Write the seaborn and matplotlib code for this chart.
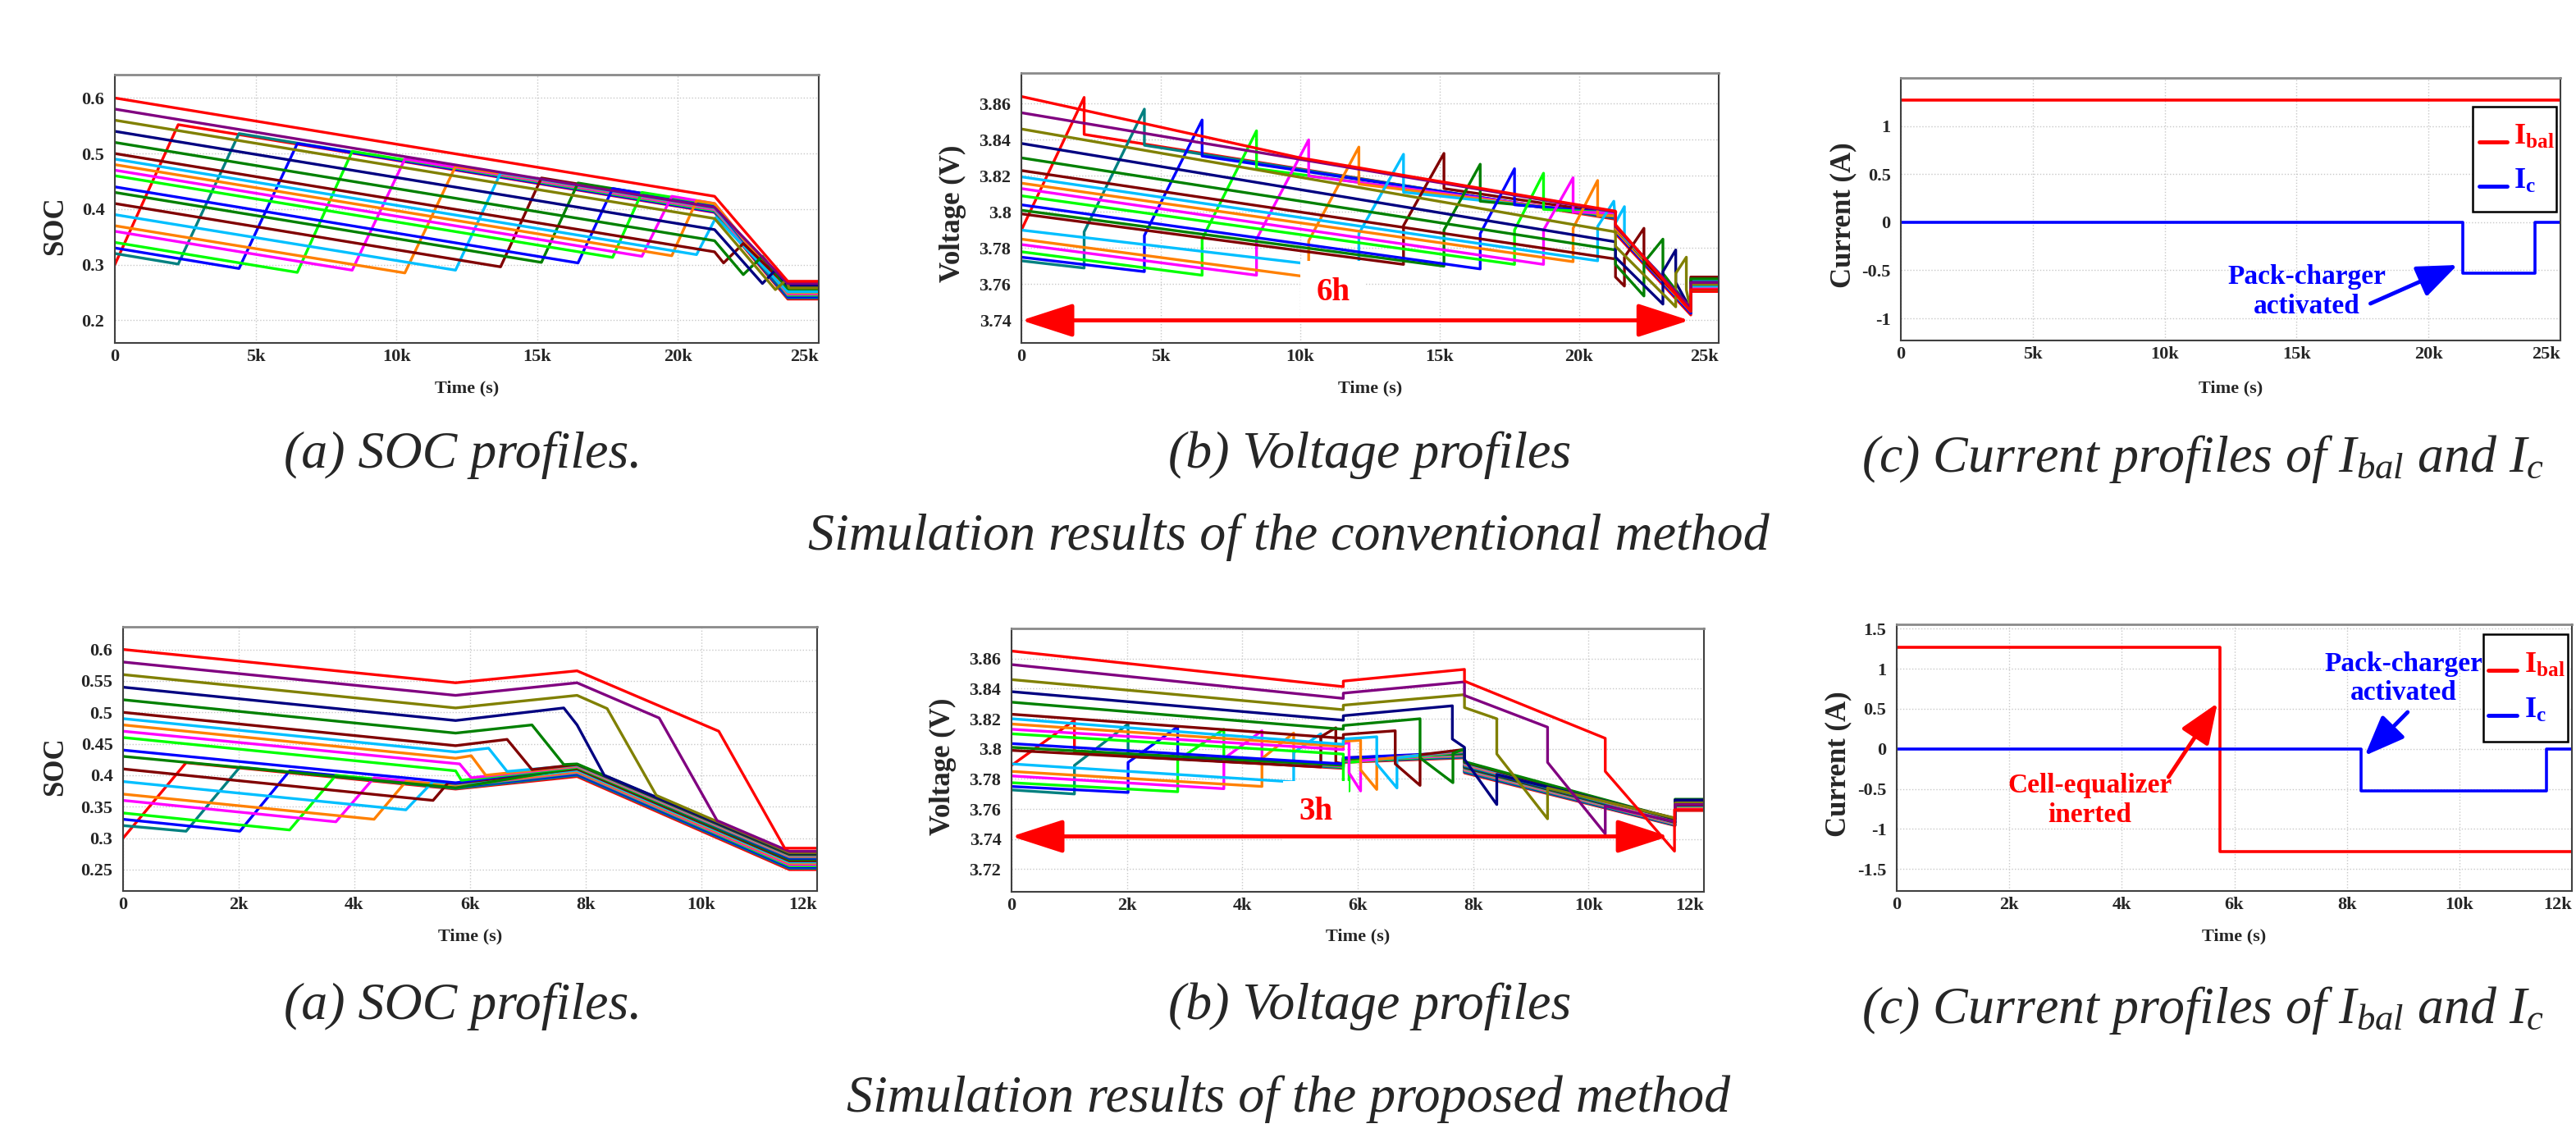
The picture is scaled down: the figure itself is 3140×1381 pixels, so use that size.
import seaborn as sns
import matplotlib.pyplot as plt
from matplotlib.patches import Rectangle, ArrowStyle
from matplotlib.lines import Line2D

W, H = 3140, 1381

# colours of the 20 cells, ordered from lowest to highest initial SOC
cell_colors = ["#ff0000", "#008080", "#0000ff", "#00ff00", "#ff00ff", "#ff8000",
               "#00bfff", "#800000", "#008000", "#0000ff", "#00ff00", "#ff00ff",
               "#ff8000", "#00bfff", "#800000", "#008000", "#000080", "#808000",
               "#800080", "#ff0000"]

# conventional method, SOC  (time in ks, SOC)
conv_soc = [
    [(0, .300), (2.25, .552), (21.3, .394), (23.9, .238), (25, .238)],
    [(0, .320), (2.25, .301), (4.41, .536), (21.3, .396), (23.9, .240), (25, .240)],
    [(0, .330), (4.41, .293), (6.48, .518), (21.3, .395), (23.9, .242), (25, .242)],
    [(0, .340), (6.48, .286), (8.43, .504), (21.3, .397), (23.9, .244), (25, .244)],
    [(0, .360), (8.43, .290), (10.3, .490), (21.3, .399), (23.9, .246), (25, .246)],
    [(0, .370), (10.3, .285), (12.1, .477), (21.3, .401), (23.9, .248), (25, .248)],
    [(0, .390), (12.1, .290), (13.7, .465), (21.3, .402), (23.9, .250), (25, .250)],
    [(0, .410), (13.7, .296), (15.15, .456), (21.3, .405), (23.9, .252), (25, .252)],
    [(0, .430), (15.15, .304), (16.45, .447), (21.3, .407), (23.9, .254), (25, .254)],
    [(0, .440), (16.45, .303), (17.68, .437), (21.3, .407), (23.9, .243), (25, .243)],
    [(0, .460), (17.68, .313), (18.72, .430), (21.3, .409), (23.9, .245), (25, .245)],
    [(0, .470), (18.72, .315), (19.78, .423), (21.3, .410), (23.9, .247), (25, .247)],
    [(0, .480), (19.78, .316), (20.66, .415), (21.3, .410), (23.9, .249), (25, .249)],
    [(0, .490), (20.66, .318), (21.35, .385), (23.9, .251), (25, .251)],
    [(0, .500), (21.3, .323), (21.62, .303), (22.32, .338), (23.9, .260), (25, .260)],
    [(0, .520), (21.3, .343), (22.32, .282), (23.0, .315), (23.9, .257), (25, .257)],
    [(0, .540), (21.3, .363), (23.0, .266), (23.46, .290), (23.9, .262), (25, .262)],
    [(0, .560), (21.3, .383), (23.46, .255), (23.84, .272), (23.95, .258), (25, .258)],
    [(0, .580), (21.3, .403), (23.9, .266), (25, .266)],
    [(0, .600), (21.3, .423), (23.9, .270), (25, .270)],
]

# conventional method, voltage
conv_volt = [
    [(0, 3.790), (2.25, 3.8635), (2.25, 3.843), (21.3, 3.796), (21.3, 3.788), (24.0, 3.743), (24.0, 3.756), (25, 3.756)],
    [(0, 3.773), (2.25, 3.769), (2.25, 3.789), (4.41, 3.857), (4.41, 3.837), (21.3, 3.7965), (21.3, 3.789), (24.0, 3.744), (24.0, 3.757), (25, 3.757)],
    [(0, 3.775), (4.41, 3.767), (4.41, 3.787), (6.48, 3.851), (6.48, 3.831), (21.3, 3.797), (21.3, 3.789), (24.0, 3.744), (24.0, 3.758), (25, 3.758)],
    [(0, 3.778), (6.48, 3.765), (6.48, 3.785), (8.43, 3.845), (8.43, 3.824), (21.3, 3.7975), (21.3, 3.790), (24.0, 3.745), (24.0, 3.757), (25, 3.757)],
    [(0, 3.782), (8.43, 3.765), (8.43, 3.785), (10.3, 3.840), (10.3, 3.820), (21.3, 3.798), (21.3, 3.790), (24.0, 3.745), (24.0, 3.758), (25, 3.758)],
    [(0, 3.785), (10.3, 3.764), (10.3, 3.784), (12.1, 3.836), (12.1, 3.8155), (21.3, 3.798), (21.3, 3.790), (24.0, 3.745), (24.0, 3.759), (25, 3.759)],
    [(0, 3.790), (12.1, 3.768), (12.1, 3.788), (13.7, 3.832), (13.7, 3.811), (21.3, 3.7985), (21.3, 3.791), (24.0, 3.746), (24.0, 3.759), (25, 3.759)],
    [(0, 3.799), (13.7, 3.771), (13.7, 3.7925), (15.15, 3.8325), (15.15, 3.813), (21.3, 3.799), (21.3, 3.791), (24.0, 3.746), (24.0, 3.760), (25, 3.760)],
    [(0, 3.801), (15.15, 3.770), (15.15, 3.790), (16.45, 3.8265), (16.45, 3.806), (21.3, 3.799), (21.3, 3.791), (24.0, 3.746), (24.0, 3.760), (25, 3.760)],
    [(0, 3.804), (16.45, 3.7685), (16.45, 3.788), (17.68, 3.824), (17.68, 3.804), (21.3, 3.7995), (21.3, 3.792), (24.0, 3.746), (24.0, 3.761), (25, 3.761)],
    [(0, 3.809), (17.68, 3.771), (17.68, 3.790), (18.72, 3.8215), (18.72, 3.8015), (21.3, 3.7995), (21.3, 3.792), (24.0, 3.747), (24.0, 3.761), (25, 3.761)],
    [(0, 3.813), (18.72, 3.771), (18.72, 3.790), (19.78, 3.819), (19.78, 3.800), (21.3, 3.7995), (21.3, 3.792), (24.0, 3.747), (24.0, 3.762), (25, 3.762)],
    [(0, 3.816), (19.78, 3.7725), (19.78, 3.791), (20.66, 3.8175), (20.66, 3.798), (21.3, 3.798), (21.3, 3.791), (24.0, 3.747), (24.0, 3.762), (25, 3.762)],
    [(0, 3.8195), (20.66, 3.773), (20.66, 3.792), (21.24, 3.806), (21.3, 3.794), (21.62, 3.803), (21.62, 3.786), (24.0, 3.748), (24.0, 3.762), (25, 3.762)],
    [(0, 3.823), (21.3, 3.774), (21.3, 3.764), (21.62, 3.759), (21.62, 3.775), (22.32, 3.791), (22.32, 3.773), (24.0, 3.746), (24.0, 3.764), (25, 3.764)],
    [(0, 3.830), (21.3, 3.779), (21.3, 3.771), (22.32, 3.7535), (22.32, 3.772), (23.0, 3.785), (23.0, 3.766), (24.0, 3.746), (24.0, 3.763), (25, 3.763)],
    [(0, 3.838), (21.3, 3.7835), (21.3, 3.775), (23.0, 3.749), (23.0, 3.767), (23.46, 3.779), (23.46, 3.761), (24.0, 3.746), (24.0, 3.761), (25, 3.761)],
    [(0, 3.846), (21.3, 3.789), (21.3, 3.781), (23.46, 3.7475), (23.46, 3.766), (23.84, 3.775), (23.84, 3.757), (24.0, 3.745), (24.0, 3.760), (25, 3.760)],
    [(0, 3.855), (21.3, 3.800), (21.3, 3.792), (24.0, 3.747), (24.0, 3.761), (25, 3.761)],
    [(0, 3.864), (10, 3.830), (21.3, 3.8005), (21.3, 3.793), (24.0, 3.745), (24.0, 3.757), (25, 3.757)],
]

# proposed method, SOC
prop_soc = [
    [(0, .300), (1.09, .420), (5.75, .378), (7.85, .398), (11.52, .250), (12, .250)],
    [(0, .320), (1.09, .311), (2.02, .413), (5.75, .379), (7.85, .400), (11.52, .252), (12, .252)],
    [(0, .330), (2.02, .311), (2.88, .407), (5.75, .381), (7.85, .402), (11.52, .254), (12, .254)],
    [(0, .340), (2.88, .313), (3.68, .400), (5.75, .382), (7.85, .404), (11.52, .256), (12, .256)],
    [(0, .360), (3.68, .326), (4.34, .396), (5.75, .383), (7.85, .405), (11.52, .258), (12, .258)],
    [(0, .370), (4.34, .330), (4.89, .390), (5.75, .384), (7.85, .406), (11.52, .260), (12, .260)],
    [(0, .390), (4.89, .345), (5.36, .390), (5.75, .386), (7.85, .408), (11.52, .262), (12, .262)],
    [(0, .410), (5.36, .360), (5.62, .388), (5.75, .387), (7.85, .410), (11.52, .264), (12, .264)],
    [(0, .430), (5.75, .380), (7.85, .412), (11.52, .266), (12, .266)],
    [(0, .440), (5.75, .388), (7.85, .414), (11.52, .268), (12, .268)],
    [(0, .460), (5.75, .407), (5.85, .392), (7.85, .413), (11.52, .270), (12, .270)],
    [(0, .470), (5.82, .418), (6.02, .396), (7.85, .414), (11.52, .271), (12, .271)],
    [(0, .480), (5.75, .427), (6.02, .431), (6.27, .400), (7.85, .415), (11.52, .272), (12, .272)],
    [(0, .490), (5.75, .437), (6.32, .443), (6.64, .406), (7.85, .416), (11.52, .273), (12, .273)],
    [(0, .500), (5.75, .447), (6.64, .457), (7.07, .409), (7.85, .417), (11.52, .274), (12, .274)],
    [(0, .520), (5.75, .467), (7.07, .480), (7.62, .417), (7.85, .418), (11.52, .275), (12, .275)],
    [(0, .540), (5.75, .487), (7.62, .507), (7.85, .480), (8.32, .400), (11.52, .276), (12, .276)],
    [(0, .560), (5.75, .507), (7.85, .527), (8.37, .506), (9.22, .368), (11.52, .277), (12, .277)],
    [(0, .580), (5.75, .527), (7.85, .547), (9.27, .491), (10.27, .328), (11.52, .279), (12, .279)],
    [(0, .600), (5.75, .547), (7.85, .566), (10.3, .470), (11.44, .284), (12, .284)],
]

# proposed method, voltage
prop_volt = [
    [(0, 3.789), (1.09, 3.819), (1.09, 3.7975), (5.75, 3.787), (5.75, 3.791), (7.85, 3.794), (7.85, 3.784), (11.5, 3.749), (11.5, 3.759), (12, 3.759)],
    [(0, 3.7727), (1.09, 3.770), (1.09, 3.789), (2.02, 3.8165), (2.02, 3.795), (5.75, 3.7875), (5.75, 3.7915), (7.85, 3.7944), (7.85, 3.7845), (11.5, 3.7493), (11.5, 3.7595), (12, 3.7595)],
    [(0, 3.775), (2.02, 3.771), (2.02, 3.791), (2.88, 3.8147), (2.88, 3.794), (5.75, 3.788), (5.75, 3.792), (7.85, 3.7948), (7.85, 3.785), (11.5, 3.7496), (11.5, 3.760), (12, 3.760)],
    [(0, 3.7775), (2.88, 3.7715), (2.88, 3.7925), (3.68, 3.813), (3.68, 3.7935), (5.75, 3.788), (5.75, 3.792), (7.85, 3.7952), (7.85, 3.7855), (11.5, 3.7499), (11.5, 3.7605), (12, 3.7605)],
    [(0, 3.782), (3.68, 3.7735), (3.68, 3.7935), (4.34, 3.812), (4.34, 3.792), (5.75, 3.7885), (5.75, 3.7925), (7.85, 3.7956), (7.85, 3.786), (11.5, 3.7502), (11.5, 3.761), (12, 3.761)],
    [(0, 3.785), (4.34, 3.775), (4.34, 3.7935), (4.89, 3.8105), (4.89, 3.7915), (5.75, 3.789), (5.75, 3.793), (7.85, 3.796), (7.85, 3.7865), (11.5, 3.7505), (11.5, 3.7615), (12, 3.7615)],
    [(0, 3.790), (4.89, 3.778), (4.89, 3.7975), (5.36, 3.810), (5.36, 3.7905), (5.75, 3.7895), (5.75, 3.7935), (7.85, 3.7964), (7.85, 3.787), (11.5, 3.7508), (11.5, 3.762), (12, 3.762)],
    [(0, 3.799), (5.36, 3.788), (5.36, 3.808), (5.62, 3.814), (5.62, 3.791), (5.75, 3.790), (5.75, 3.794), (7.85, 3.7968), (7.85, 3.7875), (11.5, 3.7511), (11.5, 3.7625), (12, 3.7625)],
    [(0, 3.801), (5.75, 3.789), (5.75, 3.793), (7.85, 3.7972), (7.85, 3.788), (11.5, 3.7514), (11.5, 3.763), (12, 3.763)],
    [(0, 3.8035), (5.75, 3.790), (5.75, 3.794), (7.85, 3.7976), (7.85, 3.7885), (11.5, 3.7517), (11.5, 3.7635), (12, 3.7635)],
    [(0, 3.810), (5.75, 3.7965), (5.75, 3.777), (5.85, 3.772), (5.85, 3.791), (7.85, 3.798), (7.85, 3.789), (11.5, 3.752), (11.5, 3.764), (12, 3.764)],
    [(0, 3.813), (5.75, 3.7995), (5.75, 3.8035), (5.85, 3.804), (5.85, 3.784), (6.05, 3.772), (6.05, 3.792), (7.85, 3.7984), (7.85, 3.7895), (11.5, 3.7523), (11.5, 3.7645), (12, 3.7645)],
    [(0, 3.8165), (5.75, 3.8015), (5.75, 3.805), (6.05, 3.8057), (6.05, 3.786), (6.33, 3.773), (6.33, 3.793), (7.85, 3.7988), (7.85, 3.790), (11.5, 3.7526), (11.5, 3.765), (12, 3.765)],
    [(0, 3.820), (5.75, 3.803), (5.75, 3.8065), (6.33, 3.808), (6.33, 3.790), (6.68, 3.774), (6.68, 3.794), (7.85, 3.7992), (7.85, 3.7905), (11.5, 3.7529), (11.5, 3.7655), (12, 3.7655)],
    [(0, 3.823), (5.75, 3.807), (5.75, 3.8095), (6.65, 3.812), (6.65, 3.790), (7.08, 3.7757), (7.08, 3.796), (7.85, 3.7996), (7.85, 3.791), (11.5, 3.7532), (11.5, 3.766), (12, 3.766)],
    [(0, 3.831), (5.75, 3.813), (5.75, 3.8155), (7.08, 3.820), (7.08, 3.794), (7.65, 3.7775), (7.65, 3.797), (7.85, 3.800), (7.85, 3.7915), (11.5, 3.7535), (11.5, 3.7665), (12, 3.7665)],
    [(0, 3.838), (5.75, 3.819), (5.75, 3.822), (7.64, 3.8286), (7.64, 3.8065), (7.85, 3.801), (7.85, 3.793), (8.41, 3.763), (8.41, 3.783), (11.5, 3.7538), (11.5, 3.766), (12, 3.766)],
    [(0, 3.846), (5.75, 3.826), (5.75, 3.829), (7.85, 3.836), (7.85, 3.8274), (8.41, 3.820), (8.41, 3.7966), (9.29, 3.7535), (9.29, 3.774), (11.5, 3.754), (11.5, 3.764), (12, 3.764)],
    [(0, 3.856), (5.75, 3.8335), (5.75, 3.837), (7.85, 3.8445), (7.85, 3.8355), (9.29, 3.8144), (9.29, 3.791), (10.29, 3.7435), (10.29, 3.762), (11.5, 3.7515), (11.5, 3.763), (12, 3.763)],
    [(0, 3.865), (5.75, 3.8413), (5.75, 3.845), (7.85, 3.8528), (7.85, 3.845), (10.29, 3.807), (10.29, 3.785), (11.49, 3.732), (11.49, 3.7595), (12, 3.7595)],
]

# currents (time in s)
conv_t_bal = [0, 25000]
conv_i_bal = [1.27, 1.27]
conv_t_c = [0, 21300, 21300, 24030, 24030, 25000]
conv_i_c = [0, 0, -0.53, -0.53, 0, 0]
prop_t_bal = [0, 5750, 5750, 12000]
prop_i_bal = [1.27, 1.27, -1.28, -1.28]
prop_t_c = [0, 8250, 8250, 11550, 11550, 12000]
prop_i_c = [0, 0, -0.53, -0.53, 0, 0]

ticks_25k = [0, 5000, 10000, 15000, 20000, 25000]
labels_25k = ["0", "5k", "10k", "15k", "20k", "25k"]
ticks_12k = [0, 2000, 4000, 6000, 8000, 10000, 12000]
labels_12k = ["0", "2k", "4k", "6k", "8k", "10k", "12k"]
soc_ticks_top = [0.2, 0.3, 0.4, 0.5, 0.6]
soc_ticks_bot = [0.25, 0.3, 0.35, 0.4, 0.45, 0.5, 0.55, 0.6]
volt_ticks_top = [3.74, 3.76, 3.78, 3.8, 3.82, 3.84, 3.86]
volt_ticks_bot = [3.72, 3.74, 3.76, 3.78, 3.8, 3.82, 3.84, 3.86]
cur_ticks_top = [-1, -0.5, 0, 0.5, 1]
cur_ticks_bot = [-1.5, -1, -0.5, 0, 0.5, 1, 1.5]

sns.set_theme(style="whitegrid")
plt.rcParams["font.family"] = ["Liberation Serif", "DejaVu Serif"]
plt.rcParams["mathtext.fontset"] = "custom"
plt.rcParams["mathtext.rm"] = "Liberation Serif"
plt.rcParams["mathtext.it"] = "Liberation Serif:italic"
plt.rcParams["mathtext.bf"] = "Liberation Serif:bold"
plt.rcParams["axes.unicode_minus"] = False

fig = plt.figure(figsize=(W / 100, H / 100), dpi=100)


def fx(x):
    return x / W


def fy(y):
    return 1 - y / H


def add_ax(l, t, r, b):
    return fig.add_axes([fx(l), fy(b), (r - l) / W, (b - t) / H])


def style(ax, xlim, xt, xl, ylim, yt):
    ax.set_xlim(*xlim)
    ax.set_ylim(*ylim)
    ax.set_xticks(xt)
    ax.set_xticklabels(xl, fontweight="bold")
    ax.set_yticks(yt)
    ax.set_yticklabels([f"{v:g}" for v in yt], fontweight="bold")
    ax.tick_params(axis="x", length=0, labelsize=16, pad=5)
    ax.tick_params(axis="y", length=0, labelsize=16, pad=9)
    # last x label sits inside the frame, as in the original
    ax.get_xticklabels()[-1].set_horizontalalignment("right")
    ax.grid(True, color="#c8c8c8", ls=":", lw=1.0)
    ax.set_xlabel("")
    ax.set_ylabel("")
    for s in ax.spines.values():
        s.set_visible(True)
        s.set_color("#404040")
        s.set_linewidth(1.5)
    ax.spines["top"].set_color("#8a8a8a")
    ax.spines["top"].set_linewidth(2)


def draw_cells(ax, cells):
    for pts, col in zip(cells, cell_colors):
        t = [p[0] * 1000 for p in pts]
        v = [p[1] for p in pts]
        sns.lineplot(x=t, y=v, ax=ax, color=col, lw=2.4, sort=False,
                     estimator=None, legend=False)


def labels(ax_box, ylab, ylab_x, ylab_y, time_y):
    l, t, r, b = ax_box
    fig.text(fx(ylab_x), fy(ylab_y), ylab, rotation=90, ha="center", va="center",
             fontsize=25, fontweight="bold")
    fig.text(fx((l + r) / 2), fy(time_y), "Time (s)", ha="center", va="center",
             fontsize=16, fontweight="bold")


def legend_box(x0, y0, x1, y1, y_bal, y_c, lx0, lx1, tx):
    fig.add_artist(Rectangle((fx(x0), fy(y1)), (x1 - x0) / W, (y1 - y0) / H,
                             transform=fig.transFigure, fc="white", ec="black", lw=1.8))
    for yy, col, lab in [(y_bal, "red", r"$\mathbf{I_{bal}}$"), (y_c, "blue", r"$\mathbf{I_c}$")]:
        fig.add_artist(Line2D([fx(lx0), fx(lx1)], [fy(yy), fy(yy)], color=col, lw=3.5,
                              transform=fig.transFigure))
        fig.text(fx(tx), fy(yy + 3), lab, color=col, fontsize=26, ha="left", va="baseline")


def double_arrow(ax, x0, x1, y):
    ax.annotate("", xy=(x0, y), xytext=(x1, y), zorder=6,
                arrowprops=dict(arrowstyle=ArrowStyle("<|-|>", head_length=3.9, head_width=1.26),
                                mutation_scale=10, color="red", lw=3.5,
                                shrinkA=0, shrinkB=0))


def pointer(ax, tail, tip, col):
    ax.annotate("", xy=tip, xytext=tail, zorder=6,
                arrowprops=dict(arrowstyle=ArrowStyle("-|>", head_length=3.0, head_width=1.2),
                                mutation_scale=10, color=col, lw=3.5,
                                shrinkA=0, shrinkB=0))


# ---------------- top row: conventional method ----------------
box = (140, 91, 998, 418)
ax = add_ax(*box)
draw_cells(ax, conv_soc)
style(ax, (0, 25000), ticks_25k, labels_25k, (0.159, 0.642), soc_ticks_top)
labels(box, "SOC", 68, 275, 473)

box = (1245, 89, 2095, 418)
ax = add_ax(*box)
draw_cells(ax, conv_volt)
style(ax, (0, 25000), ticks_25k, labels_25k, (3.7275, 3.877), volt_ticks_top)
double_arrow(ax, 0, 23950, 3.74)
ax.text(11180, 3.7555, "6h", color="red", fontsize=28, fontweight="bold", ha="center",
        va="center", zorder=5, bbox=dict(fc="white", ec="none", pad=14))
labels(box, "Voltage (V)", 1161, 260, 473)

box = (2317, 95, 3121, 415)
ax = add_ax(*box)
sns.lineplot(x=conv_t_bal, y=conv_i_bal, ax=ax, color="red", lw=2.6, sort=False, estimator=None)
sns.lineplot(x=conv_t_c, y=conv_i_c, ax=ax, color="blue", lw=2.6, sort=False, estimator=None)
style(ax, (0, 25000), ticks_25k, labels_25k, (-1.23, 1.5), cur_ticks_top)
ax.text(15400, -0.72, "Pack-charger\nactivated", color="blue", fontsize=24,
        fontweight="bold", ha="center", va="center")
pointer(ax, (17800, -0.846), (21100, -0.445), "blue")
labels(box, "Current (A)", 2247, 262, 473)
legend_box(3014, 130, 3116, 258, 173, 227, 3022, 3056, 3064)

# ---------------- bottom row: proposed method ----------------
box = (150, 764, 996, 1086)
ax = add_ax(*box)
draw_cells(ax, prop_soc)
style(ax, (0, 12000), ticks_12k, labels_12k, (0.216, 0.636), soc_ticks_bot)
labels(box, "SOC", 68, 934, 1141)

box = (1233, 766, 2077, 1087)
ax = add_ax(*box)
draw_cells(ax, prop_volt)
style(ax, (0, 12000), ticks_12k, labels_12k, (3.705, 3.880), volt_ticks_bot)
double_arrow(ax, 0, 11390, 3.7418)
ax.text(5270, 3.758, "3h", color="red", fontsize=28, fontweight="bold", ha="center",
        va="center", zorder=5, bbox=dict(fc="white", ec="none", pad=14))
labels(box, "Voltage (V)", 1149, 934, 1141)

box = (2312, 761, 3135, 1086)
ax = add_ax(*box)
sns.lineplot(x=prop_t_bal, y=prop_i_bal, ax=ax, color="red", lw=2.6, sort=False, estimator=None)
sns.lineplot(x=prop_t_c, y=prop_i_c, ax=ax, color="blue", lw=2.6, sort=False, estimator=None)
style(ax, (0, 12000), ticks_12k, labels_12k, (-1.776, 1.555), cur_ticks_bot)
ax.text(9010, 0.878, "Pack-charger\nactivated", color="blue", fontsize=24,
        fontweight="bold", ha="center", va="center")
pointer(ax, (9080, 0.458), (8320, -0.085), "blue")
ax.text(3430, -0.64, "Cell-equalizer\ninerted", color="red", fontsize=24,
        fontweight="bold", ha="center", va="center")
pointer(ax, (4830, -0.352), (5700, 0.57), "red")
labels(box, "Current (A)", 2241, 931, 1141)
legend_box(3027, 773, 3130, 904, 817, 872, 3033, 3068, 3077)

# ---------------- captions ----------------
cap = dict(fontsize=46, fontstyle="italic", ha="center", va="baseline")
fig.text(fx(564), fy(570), "(a) SOC profiles.", **cap)
fig.text(fx(1670), fy(570), "(b) Voltage profiles", **cap)
fig.text(fx(2685), fy(575), r"(c) Current profiles of $I_{bal}$ and $I_c$", **cap)
fig.text(fx(1571), fy(670), "Simulation results of the conventional method", **cap)
fig.text(fx(564), fy(1242), "(a) SOC profiles.", **cap)
fig.text(fx(1670), fy(1242), "(b) Voltage profiles", **cap)
fig.text(fx(2685), fy(1247), r"(c) Current profiles of $I_{bal}$ and $I_c$", **cap)
fig.text(fx(1571), fy(1355), "Simulation results of the proposed method", **cap)

fig.savefig("out.png", dpi=100, facecolor="white")
